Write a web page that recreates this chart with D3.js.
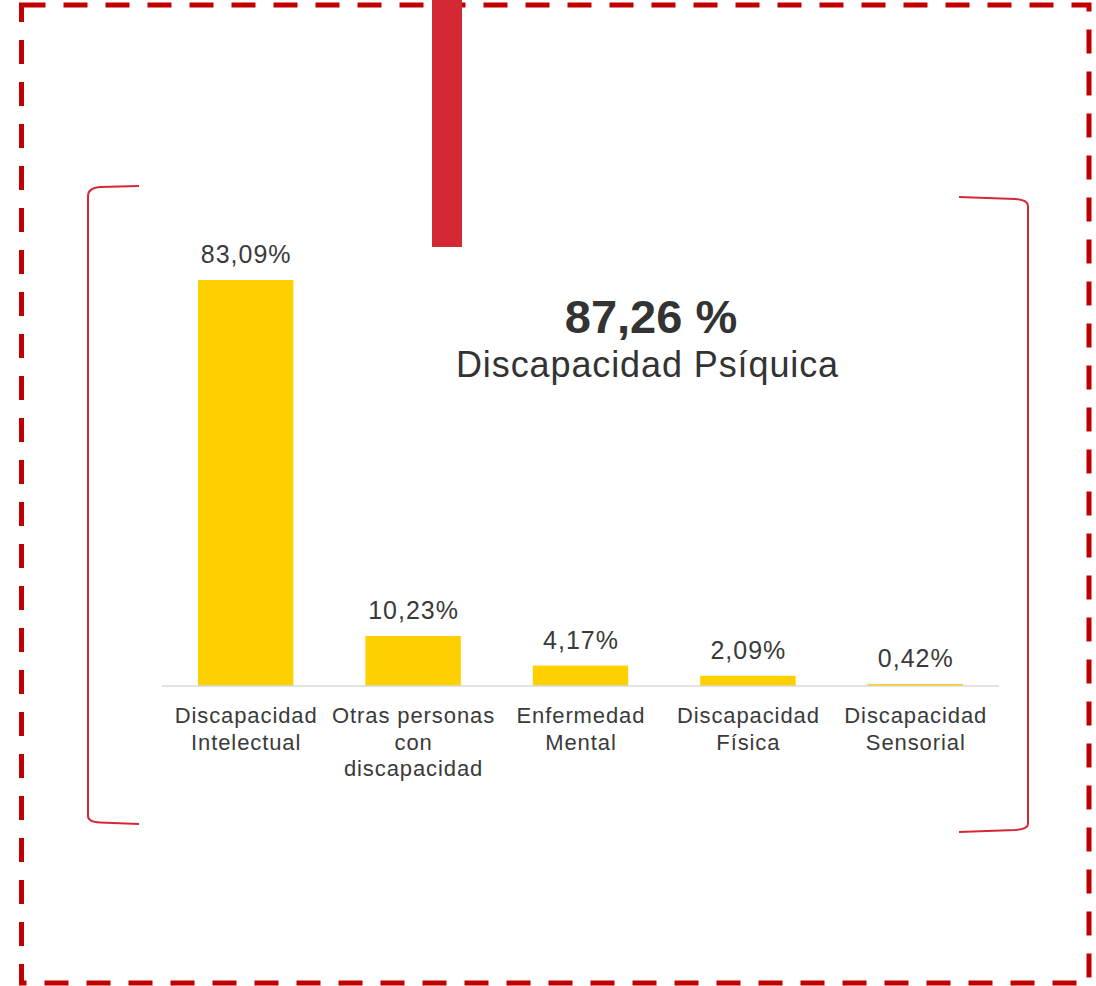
<!DOCTYPE html>
<html>
<head>
<meta charset="utf-8">
<script src="https://cdn.jsdelivr.net/npm/d3@7"></script>
<style>
  html, body { margin: 0; padding: 0; background: #fff; }
  svg { display: block; font-family: "Liberation Sans", Arial, sans-serif; }
</style>
</head>
<body>
<div id="chart"></div>
<script>
// chart data
var categories = ["Discapacidad Intelectual", "Otras personas con discapacidad", "Enfermedad Mental", "Discapacidad Física", "Discapacidad Sensorial"];
var categoryLines = [["Discapacidad", "Intelectual"], ["Otras personas", "con", "discapacidad"], ["Enfermedad", "Mental"], ["Discapacidad", "Física"], ["Discapacidad", "Sensorial"]];
var values = [83.09, 10.23, 4.17, 2.09, 0.42];
var valueLabels = ["83,09%", "10,23%", "4,17%", "2,09%", "0,42%"];
var headlineValue = "87,26 %";
var headlineText = "Discapacidad Psíquica";

var W = 1096, H = 986;
var svg = d3.select('#chart').append('svg')
    .attr('width', W)
    .attr('height', H);

// dashed outer frame
svg.append('rect')
    .attr('x', 21.5).attr('y', 5)
    .attr('width', 1067.5).attr('height', 978)
    .attr('fill', 'none')
    .attr('stroke', '#C00000')
    .attr('stroke-width', 5)
    .attr('stroke-dasharray', '24 18');

// red tab at top
svg.append('rect')
    .attr('x', 432).attr('y', 0)
    .attr('width', 30).attr('height', 247)
    .attr('fill', '#D42833');

// brackets
svg.append('path')
    .attr('d', 'M139,186 L100,187 Q88,188 88,196 L88,816 Q88,822 100,822.5 L139,824')
    .attr('fill', 'none').attr('stroke', '#D42833').attr('stroke-width', 2);
svg.append('path')
    .attr('d', 'M959,197 L1015,199 Q1028,200 1028,206 L1028,824 Q1028,829 1015,830 L959,832')
    .attr('fill', 'none').attr('stroke', '#D42833').attr('stroke-width', 2);

// scales
var x = d3.scaleBand()
    .domain(categories)
    .range([162, 999])
    .paddingInner(0.43)
    .paddingOuter(0.215);
var y = d3.scaleLinear()
    .domain([0, 100])
    .range([686, 197.4]);

// bars
svg.selectAll('.bar')
    .data(values)
    .enter()
    .append('rect')
    .attr('class', 'bar')
    .attr('x', function (d, i) { return x(categories[i]); })
    .attr('y', function (d) { return y(d); })
    .attr('width', x.bandwidth())
    .attr('height', function (d) { return 686 - y(d); })
    .attr('fill', '#FFD000');

// value labels
svg.selectAll('.val')
    .data(values)
    .enter()
    .append('text')
    .attr('class', 'val')
    .attr('x', function (d, i) { return x(categories[i]) + x.bandwidth() / 2 + 0.5; })
    .attr('y', function (d) { return y(d) - 17; })
    .attr('text-anchor', 'middle')
    .attr('font-size', 25)
    .attr('letter-spacing', 1)
    .attr('fill', '#3a3a3a')
    .text(function (d, i) { return valueLabels[i]; });

// x axis
var axis = svg.append('g')
    .attr('transform', 'translate(0,686)')
    .call(d3.axisBottom(x).tickSize(0).tickSizeOuter(0));
axis.select('.domain')
    .attr('stroke', '#d9d9d9')
    .attr('stroke-width', 1.5)
    .attr('d', 'M162,0H999');
axis.selectAll('.tick text').each(function (d, i) {
    var t = d3.select(this);
    t.text(null)
        .attr('y', 37)
        .attr('dy', null)
        .attr('font-size', 22)
        .attr('letter-spacing', 0.9)
        .attr('font-family', '"Liberation Sans", Arial, sans-serif')
        .attr('fill', '#3a3a3a');
    categoryLines[i].forEach(function (line, j) {
        t.append('tspan')
            .attr('x', 0.45)
            .attr('y', 37 + j * 26.7)
            .text(line);
    });
});

// headline
svg.append('text')
    .attr('x', 651).attr('y', 333)
    .attr('text-anchor', 'middle')
    .attr('font-size', 47)
    .attr('font-weight', 'bold')
    .attr('fill', '#333')
    .text(headlineValue);
svg.append('text')
    .attr('x', 647.5).attr('y', 377)
    .attr('text-anchor', 'middle')
    .attr('font-size', 36)
    .attr('letter-spacing', 0.9)
    .attr('fill', '#333')
    .text(headlineText);
</script>
</body>
</html>
